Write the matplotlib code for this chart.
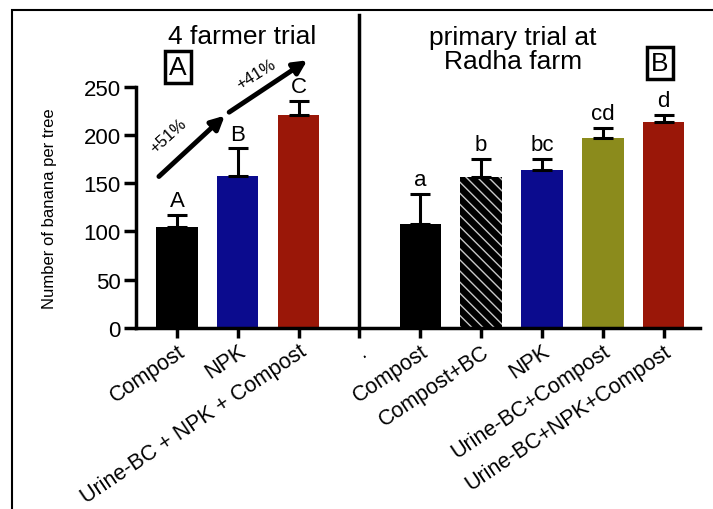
import matplotlib.pyplot as plt
from matplotlib.patches import Rectangle
import numpy as np

plt.rcParams['font.family'] = ['Liberation Sans', 'DejaVu Sans']

# データ
labels = ["Compost", "NPK", "Urine-BC + NPK + Compost", ".",
          "Compost", "Compost+BC", "NPK", "Urine-BC+Compost", "Urine-BC+NPK+Compost"]
means = [105, 157, 221, 0, 108, 156, 164, 197, 213]
errs = [12, 29, 14, 0, 31, 19, 11, 10, 8]
letters = ["A", "B", "C", "", "a", "b", "bc", "cd", "d"]
colors = ["black", "#0b0b8e", "#9a1708", "white", "black", "black", "#0b0b8e", "#8b8b1c", "#9a1708"]

fig = plt.figure(figsize=(7.13, 5.10), dpi=100)
ax = fig.add_axes([0.191, 0.355, 0.791, 0.473])

x = np.arange(len(labels))
for i in x:
    if i == 3:
        continue
    hatch = "\\\\\\" if i == 5 else None
    ec = "#c8c8c8" if i == 5 else colors[i]
    ax.bar(i, means[i], width=0.68, color=colors[i], edgecolor=ec, hatch=hatch, linewidth=0)
    ax.errorbar(i, means[i], yerr=[[0], [errs[i]]], color="black", capsize=7,
                elinewidth=2.2, capthick=2.2)
    ax.text(i, means[i] + errs[i] + 4, letters[i], ha="center", va="bottom", fontsize=16)

ax.set_xlim(-0.67, 8.6)
ax.set_ylim(0, 250)
ax.set_yticks([0, 50, 100, 150, 200, 250])
ax.set_xticks(x)
ax.set_xticklabels(labels, rotation=34, ha="right", va="top", rotation_mode="anchor", fontsize=15.5)
ax.tick_params(axis="y", labelsize=16, length=9, width=2.5, pad=2)
ax.tick_params(axis="x", length=7, width=2.5, pad=2)
for s in ["top", "right"]:
    ax.spines[s].set_visible(False)
for s in ["left", "bottom"]:
    ax.spines[s].set_linewidth(2.5)
ax.set_ylabel("Number of banana per tree", fontsize=12)
ax.yaxis.set_label_coords(-0.14, 0.5)

# 区切りの縦線
ax.plot([3, 3], [0, 324], color="black", lw=2.5, clip_on=False)

# 矢印
ax.annotate("", xy=(0.82, 222), xytext=(-0.33, 155), annotation_clip=False,
            arrowprops=dict(arrowstyle="-|>", lw=3.5, color="black", mutation_scale=20))
ax.annotate("", xy=(2.18, 279), xytext=(0.82, 222), annotation_clip=False,
            arrowprops=dict(arrowstyle="-|>", lw=3.5, color="black", mutation_scale=20))
ax.text(-0.15, 200, "+51%", rotation=42, ha="center", va="center", fontsize=12)
ax.text(1.3, 263, "+41%", rotation=32, ha="center", va="center", fontsize=12)

# タイトルとパネル記号
fig.text(242 / 713, 1 - 37 / 510, "4 farmer trial", ha="center", va="center", fontsize=19)
fig.text(513 / 713, 1 - 50 / 510, "primary trial at\nRadha farm", ha="center", va="center",
         fontsize=19, linespacing=1.0)
fig.text(178 / 713, 1 - 68 / 510, "A", ha="center", va="center", fontsize=19,
         bbox=dict(boxstyle="square,pad=0.15", fc="white", ec="black", lw=2.5))
fig.text(660 / 713, 1 - 64 / 510, "B", ha="center", va="center", fontsize=19,
         bbox=dict(boxstyle="square,pad=0.15", fc="white", ec="black", lw=2.5))

# 外枠
fig.patches.append(Rectangle((12 / 713, -0.05), 1.0, 1 - 11 / 510 + 0.05,
                             transform=fig.transFigure, fill=False, ec="black", lw=1.5))

fig.savefig("out.png", dpi=100)
